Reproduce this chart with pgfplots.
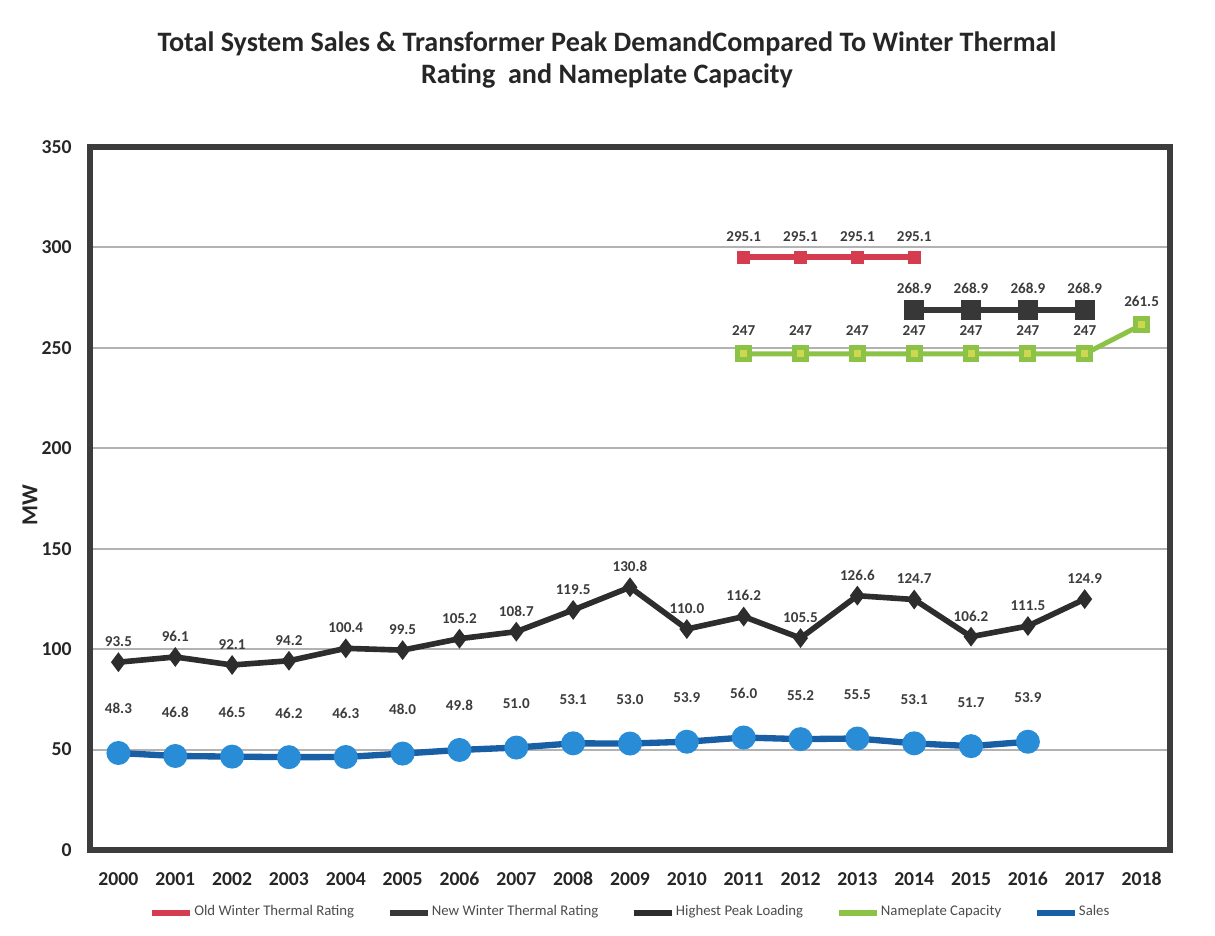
\documentclass[border=0pt]{standalone}
\usepackage{pgfplots}
\pgfplotsset{compat=1.18}
\usepackage{fontspec}
\setmainfont{Carlito}
\definecolor{frame}{RGB}{60,60,60}
\definecolor{oldred}{RGB}{214,60,80}
\definecolor{newblk}{RGB}{55,55,55}
\definecolor{peak}{RGB}{45,45,45}
\definecolor{namegreen}{RGB}{140,195,70}
\definecolor{namefill}{RGB}{205,215,80}
\definecolor{salesblue}{RGB}{25,95,165}
\definecolor{salesfill}{RGB}{40,140,215}
\definecolor{lbl}{RGB}{60,60,60}
\begin{document}
\begin{tikzpicture}[x=1mm,y=1mm]
\useasboundingbox (0,0) rectangle (121.5,93.6);
\node[font=\fontsize{8}{9.2}\selectfont\bfseries, align=center, text=black!85] at (60.7,87.6) {Total System Sales \& Transformer Peak DemandCompared To Winter Thermal\\Rating\ \ and Nameplate Capacity};
\node[rotate=90, font=\fontsize{6.5}{8}\selectfont\bfseries, text=black!85] at (3.0,43.1) {MW};
\begin{axis}[
  at={(9mm,8.6mm)}, anchor=south west,
  scale only axis, width=108mm, height=70.3mm,
  xmin=-0.5, xmax=18.5, ymin=0, ymax=350,
  xtick={0,...,18},
  xticklabels={2000,2001,2002,2003,2004,2005,2006,2007,2008,2009,2010,2011,2012,2013,2014,2015,2016,2017,2018},
  ytick={0,50,...,350},
  major tick length=0pt,
  ymajorgrids, grid style={black!30, line width=0.6pt},
  axis line style={frame, line width=1.6pt},
  tick label style={font=\fontsize{5.6}{7}\selectfont\bfseries, text=black!85},
  /pgf/number format/assume math mode=true,
  xticklabel style={yshift=-1.0mm},
  yticklabel style={xshift=-0.6mm},
  every node near coord/.append style={font=\fontsize{4.3}{5}\selectfont\bfseries, text=lbl, anchor=south,
    /pgf/number format/fixed, /pgf/number format/fixed zerofill, /pgf/number format/precision=1},
  legend style={at={(0.5,-0.058)}, anchor=north, draw=none, fill=none, legend columns=5,
    font=\fontsize{4.2}{5}\selectfont, text=black!70, /tikz/every even column/.append style={column sep=3.2mm},
    nodes={inner xsep=0.3pt}},
  legend image code/.code={\draw[#1, line width=1.6pt, mark=none] (0cm,0cm) -- (0.38cm,0cm);},
  clip=false,
]
\addplot[oldred, line width=1.8pt, mark=square*, mark size=1pt, mark options={fill=oldred},
  nodes near coords, every node near coord/.append style={yshift=0.1mm}] coordinates {
 (11,295.1) (12,295.1) (13,295.1) (14,295.1)};
\addlegendentry{Old Winter Thermal Rating}
\addplot[newblk, line width=1.6pt, mark=square*, mark size=2.1pt, mark options={fill=newblk},
  nodes near coords, every node near coord/.append style={yshift=0.2mm}] coordinates {
 (14,268.9) (15,268.9) (16,268.9) (17,268.9)};
\addlegendentry{New Winter Thermal Rating}
\addplot[peak, line width=1.6pt, mark=diamond*, mark size=1.5pt, mark options={fill=peak},
  nodes near coords, every node near coord/.append style={yshift=0.1mm}] coordinates {
 (0,93.5) (1,96.1) (2,92.1) (3,94.2) (4,100.4) (5,99.5) (6,105.2) (7,108.7) (8,119.5) (9,130.8)
 (10,110.0) (11,116.2) (12,105.5) (13,126.6) (14,124.7) (15,106.2) (16,111.5) (17,124.9)};
\addlegendentry{Highest Peak Loading}
\addplot[namegreen, line width=1.4pt, mark=square*, mark size=1.7pt, mark options={fill=namefill, draw=namegreen},
  nodes near coords, every node near coord/.append style={yshift=0.4mm},
  point meta=explicit symbolic] coordinates {
 (11,247)[247] (12,247)[247] (13,247)[247] (14,247)[247] (15,247)[247] (16,247)[247] (17,247)[247] (18,261.5)[261.5]};
\addlegendentry{Nameplate Capacity}
\addplot[salesblue, line width=1.8pt, mark=*, mark size=2.5pt, mark options={fill=salesfill, draw=salesfill},
  nodes near coords, every node near coord/.append style={yshift=2.4mm}] coordinates {
 (0,48.3) (1,46.8) (2,46.5) (3,46.2) (4,46.3) (5,48.0) (6,49.8) (7,51.0) (8,53.1) (9,53.0)
 (10,53.9) (11,56.0) (12,55.2) (13,55.5) (14,53.1) (15,51.7) (16,53.9)};
\addlegendentry{Sales}
\end{axis}
\end{tikzpicture}
\end{document}
